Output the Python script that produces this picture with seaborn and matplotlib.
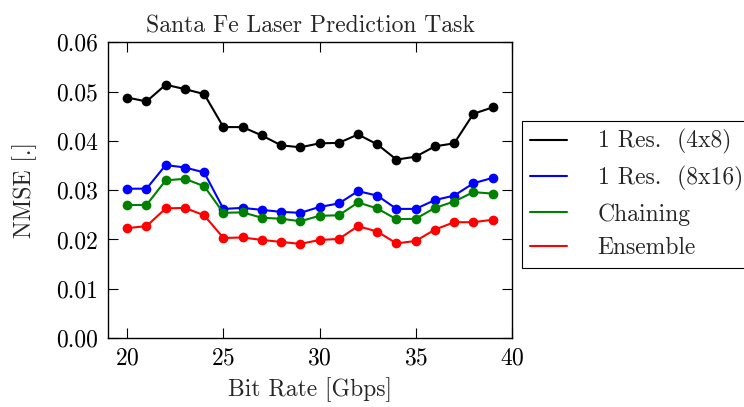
import matplotlib
matplotlib.use("Agg")
import matplotlib.pyplot as plt
import seaborn as sns
import pandas as pd
from matplotlib.lines import Line2D

bit_rate = list(range(20, 40))
res_4x8 = [0.0488, 0.0480, 0.0514, 0.0505, 0.0495, 0.0428, 0.0428, 0.0411, 0.0391, 0.0387,
           0.0395, 0.0396, 0.0413, 0.0393, 0.0362, 0.0368, 0.0389, 0.0395, 0.0455, 0.0468]
res_8x16 = [0.0303, 0.0303, 0.0351, 0.0346, 0.0336, 0.0262, 0.0264, 0.0260, 0.0256, 0.0254,
            0.0266, 0.0273, 0.0298, 0.0289, 0.0262, 0.0262, 0.0280, 0.0289, 0.0314, 0.0325]
chaining = [0.0270, 0.0270, 0.0320, 0.0323, 0.0308, 0.0254, 0.0255, 0.0244, 0.0242, 0.0237,
            0.0248, 0.0249, 0.0275, 0.0263, 0.0241, 0.0242, 0.0264, 0.0277, 0.0296, 0.0293]
ensemble = [0.0223, 0.0227, 0.0263, 0.0264, 0.0249, 0.0203, 0.0204, 0.0199, 0.0195, 0.0191,
            0.0199, 0.0201, 0.0227, 0.0216, 0.0192, 0.0197, 0.0220, 0.0235, 0.0235, 0.0240]

labels = ["1 Res.  (4x8)", "1 Res.  (8x16)", "Chaining", "Ensemble"]
colors = ["black", "blue", "green", "red"]
series = [res_4x8, res_8x16, chaining, ensemble]

df = pd.concat([pd.DataFrame({"x": bit_rate, "y": s, "method": lab})
                for s, lab in zip(series, labels)], ignore_index=True)

sns.set_style("ticks")
plt.rcParams["font.family"] = "serif"
plt.rcParams["font.serif"] = ["cmr10", "DejaVu Serif"]
plt.rcParams["mathtext.fontset"] = "cm"
plt.rcParams["axes.formatter.use_mathtext"] = True

FS = 17
fig = plt.figure(figsize=(7.44, 4.07), dpi=100)
ax = fig.add_axes([0.1452, 0.1695, 0.688 - 0.1452, 0.896 - 0.1695])

sns.lineplot(data=df, x="x", y="y", hue="method", palette=dict(zip(labels, colors)),
             marker="o", markersize=7, markeredgewidth=0, linewidth=1.5,
             legend=False, ax=ax)

ax.set_xlim(19, 40)
ax.set_ylim(0, 0.06)
ax.set_xticks([20, 25, 30, 35, 40])
ax.set_yticks([0.0, 0.01, 0.02, 0.03, 0.04, 0.05, 0.06])
ax.set_yticklabels(["0.00", "0.01", "0.02", "0.03", "0.04", "0.05", "0.06"])
ax.tick_params(direction="in", length=7.5, width=0.8, top=True, right=True,
               labelsize=FS, pad=7, colors="black")
for sp in ax.spines.values():
    sp.set_color("black")
    sp.set_linewidth(1.0)
    sp.set_visible(True)

ax.set_xlabel("Bit Rate [Gbps]", fontsize=FS, labelpad=5)
ax.set_ylabel("NMSE [.]", fontsize=FS, labelpad=14)
ax.set_title("Santa Fe Laser Prediction Task", fontsize=FS, pad=7)

handles = [Line2D([0], [0], color=c, lw=1.5) for c in colors]
leg = fig.legend(handles, labels, loc="upper left", bbox_to_anchor=(0.7016, 0.7027),
                 bbox_transform=fig.transFigure, borderaxespad=0, fontsize=FS,
                 fancybox=False, edgecolor="black", framealpha=1,
                 handlelength=1.55, handletextpad=1.3, labelspacing=0.5,
                 borderpad=0.35)
leg.get_frame().set_linewidth(0.8)

fig.savefig("out.png", dpi=100)
